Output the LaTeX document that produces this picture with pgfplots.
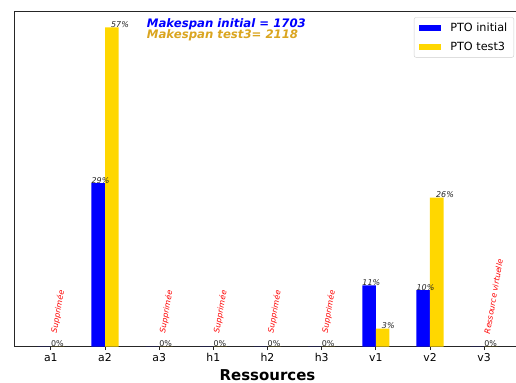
\documentclass[border=0pt]{standalone}
\usepackage{pgfplots}
\pgfplotsset{compat=1.18}
\usepackage{fontspec}
\setmainfont{DejaVu Sans}[BoldFont={DejaVu Sans Bold},ItalicFont={DejaVu Sans Oblique},BoldItalicFont={DejaVu Sans Bold Oblique}]
\definecolor{mygold}{RGB}{255,215,0}
\definecolor{mygoldenrod}{RGB}{218,165,32}
\definecolor{spine}{RGB}{38,38,38}
\tikzset{annot/.style={xshift=5.8bp, rotate=80, anchor=base west, inner sep=0pt, text=red, font=\itshape\fontsize{7.9}{9}\selectfont}}
\begin{document}
\begin{tikzpicture}
\begin{axis}[
  at={(0,0)}, anchor=south west,
  scale only axis, width=506.4bp, height=335.2bp,
  xmin=-0.675, xmax=8.675, ymin=0, ymax=60.06,
  xtick={0,1,2,3,4,5,6,7,8},
  xticklabels={a1,a2,a3,h1,h2,h3,v1,v2,v3},
  ytick=\empty,
  xtick pos=left,
  tick align=outside,
  major tick length=3.5bp,
  axis line style={spine, line width=0.8bp},
  every tick/.style={spine, line width=0.8bp},
  ticklabel style={font=\fontsize{10.9}{12}\selectfont, text=black},
  xlabel={Ressources},
  xlabel style={font=\bfseries\fontsize{15}{16}\selectfont, at={(axis description cs:0.5,0)}, anchor=base, yshift=-33.8bp},
  legend style={at={(rel axis cs:0.9868,0.9827)}, anchor=north east,
    draw=black!20, rounded corners=2bp, fill=white,
    font=\fontsize{11.3}{13}\selectfont, inner xsep=4.5bp, inner ysep=3.5bp, row sep=5bp,
    /tikz/every odd column/.append style={column sep=7bp}},
  legend cell align=left,
  legend image code/.code={\fill[#1, sharp corners] (0bp,-3.3bp) rectangle (22.7bp,3.3bp);},
  clip=false,
]
% PTO initial
\addplot[ybar, bar width=0.25, bar shift=-0.125, fill=blue, draw=none] coordinates {
 (0,0) (1,29.3) (2,0) (3,0) (4,0) (5,0) (6,11.0) (7,10.15) (8,0)};
\addlegendentry{PTO initial}
% PTO test3
\addplot[ybar, bar width=0.25, bar shift=0.125, fill=mygold, draw=none] coordinates {
 (0,0) (1,57.2) (2,0) (3,0) (4,0) (5,0) (6,3.25) (7,26.7) (8,0)};
\addlegendentry{PTO test3}
% value labels
\addplot[only marks, mark=none, nodes near coords, point meta=explicit symbolic, forget plot,
  every node near coord/.style={anchor=base west, inner sep=0pt, text=black!85, font=\itshape\fontsize{8}{9}\selectfont}]
 table[meta=lab] {
 x y lab
 0.75 29.3 29\%
 1.11 57.2 57\%
 5.75 11.0 11\%
 6.11 3.25 3\%
 6.75 10.15 10\%
 7.11 26.7 26\%
 };
\addplot[only marks, mark=none, nodes near coords, point meta=explicit symbolic, forget plot,
  every node near coord/.style={anchor=base west, inner sep=0pt, text=black!85, font=\fontsize{8}{9}\selectfont}]
 table[meta=lab] {
 x y lab
 0 0 0\%
 2 0 0\%
 3 0 0\%
 4 0 0\%
 5 0 0\%
 8 0 0\%
 };
% annotations
\node[annot] at (axis cs:0,2.4) {Supprimée};
\node[annot] at (axis cs:2,2.4) {Supprimée};
\node[annot] at (axis cs:3,2.4) {Supprimée};
\node[annot] at (axis cs:4,2.4) {Supprimée};
\node[annot] at (axis cs:5,2.4) {Supprimée};
\node[annot] at (axis cs:8,2.2) {Ressource virtuelle};
\node[anchor=base west, inner sep=0pt, text=blue, font=\bfseries\itshape\fontsize{11.75}{13}\selectfont] at (rel axis cs:0.2615,0.953) {Makespan initial = 1703};
\node[anchor=base west, inner sep=0pt, text=mygoldenrod, font=\bfseries\itshape\fontsize{11.75}{13}\selectfont] at (rel axis cs:0.2615,0.920) {Makespan test3= 2118};
\end{axis}
\pgfresetboundingbox
\useasboundingbox (-14.3bp,-36.3bp) rectangle (501.7bp,346.7bp);
\end{tikzpicture}
\end{document}
